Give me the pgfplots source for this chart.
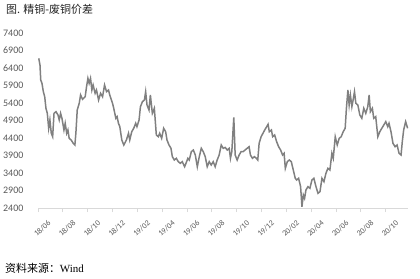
\documentclass[border=0pt]{standalone}
\usepackage{fontspec}
\usepackage{pgfplots}
\pgfplotsset{compat=1.18}
\setmainfont{Liberation Serif}
\newfontfamily\cjk{Noto Sans CJK SC}
\newfontfamily\calib{Carlito}
\definecolor{linegray}{RGB}{128,128,128}
\definecolor{txtgray}{RGB}{89,89,89}
\definecolor{axgray}{RGB}{217,217,217}
\pgfplotstableread{
m v
0.06 6677
0.16 6486
0.22 6057
0.32 5963
0.43 5723
0.54 5580
0.64 5249
0.75 5105
0.86 4677
0.96 4914
1.07 4534
1.18 4437
1.29 5105
1.45 5152
1.61 5057
1.71 4914
1.82 5105
1.93 4963
2.09 4629
2.19 4820
2.31 4534
2.41 4629
2.51 4391
2.67 4343
2.84 4248
2.97 4200
3.05 4534
3.16 5200
3.32 5391
3.43 5629
3.59 5505
3.80 5580
3.91 5866
4.02 6105
4.12 5963
4.23 6105
4.34 5771
4.44 5914
4.60 5677
4.71 5771
4.88 5486
5.04 5677
5.20 5580
5.36 5914
5.52 5723
5.68 5771
5.78 5629
6.00 5391
6.10 5249
6.27 4963
6.37 5010
6.48 4820
6.59 4724
6.75 4343
6.91 4200
7.12 4343
7.29 4534
7.39 4343
7.55 4580
7.71 4677
7.87 4820
7.97 4724
8.14 4914
8.25 5294
8.41 5437
8.57 5486
8.67 5723
8.78 5343
8.94 5200
9.05 5629
9.21 5105
9.37 5249
9.53 4486
9.69 4437
9.80 4534
9.96 4391
10.12 4677
10.28 4580
10.39 4343
10.55 4200
10.71 4105
10.82 3866
10.98 3771
11.14 3820
11.30 3724
11.46 3677
11.62 3724
11.81 3580
11.97 3724
12.07 3820
12.18 3771
12.35 4010
12.51 4057
12.67 3914
12.83 3580
12.99 3866
13.15 4105
13.31 4010
13.47 3866
13.63 3580
13.79 3724
13.95 3629
14.11 3724
14.27 3580
14.43 3771
14.59 3914
14.76 4200
14.92 4105
15.08 4130
15.24 4057
15.40 4105
15.50 3820
15.61 4010
15.77 4990
15.88 3914
16.04 3771
16.20 3914
16.36 4010
16.52 4010
16.68 4057
16.84 4105
17.00 4152
17.11 3914
17.27 3820
17.43 3866
17.59 3820
17.70 3771
17.81 4248
17.97 4437
18.26 4629
18.42 4724
18.53 4791
18.63 4580
18.80 4629
18.90 4437
19.06 4486
19.22 4294
19.38 4152
19.54 4057
19.70 3914
19.82 3963
19.92 3534
20.08 3724
20.24 3771
20.40 3724
20.56 3486
20.72 3248
20.83 3200
20.99 3248
21.15 3010
21.26 2437
21.37 2771
21.47 2677
21.58 2914
21.74 3010
21.90 2963
22.06 3200
22.22 3248
22.39 3010
22.55 2820
22.71 2866
22.87 3248
23.03 3152
23.19 3391
23.35 3534
23.51 3486
23.67 3963
23.78 3820
23.94 4437
24.10 4200
24.26 4391
24.42 4437
24.58 4580
24.74 4677
24.84 5249
24.96 5771
25.06 5343
25.16 5629
25.28 5294
25.38 5486
25.49 5723
25.60 5391
25.76 5343
25.92 5057
26.08 4963
26.24 5249
26.40 5105
26.56 5294
26.67 5629
26.77 5152
26.93 5249
27.04 4963
27.20 5010
27.37 4437
27.53 4580
27.69 4677
27.85 4771
28.01 4867
28.17 4724
28.27 4820
28.43 4580
28.59 4248
28.76 4152
28.92 4200
29.08 3963
29.24 3914
29.34 4294
29.45 4629
29.61 4867
29.77 4677
}\spread
\begin{document}
\begin{tikzpicture}
\path[use as bounding box] (-38bp,-71bp) rectangle (382bp,208bp);
\begin{axis}[
  at={(0,0)}, anchor=south west,
  scale only axis, width=370bp, height=175bp,
  xmin=0, xmax=29.8, ymin=2400, ymax=7400,
  axis x line*=bottom, axis y line*=left,
  y axis line style={draw=none},
  x axis line style={axgray, line width=0.75bp, -},
  xtick={0,2,...,28},
  xticklabels={18/06,18/08,18/10,18/12,19/02,19/04,19/06,19/08,19/10,19/12,20/02,20/04,20/06,20/08,20/10},
  x tick style={axgray, line width=0.75bp},
  tick align=outside,
  major tick length=4bp,
  ytick={2400,2900,...,7400},
  y tick style={draw=none},
  /pgf/number format/assume math mode=true,
  /pgf/number format/1000 sep={},
  yticklabel style={font=\calib\fontsize{10}{12}\selectfont, text=txtgray, anchor=west, inner sep=0pt, xshift=-31bp},
  xticklabel style={font=\calib\fontsize{8}{10}\selectfont, text=txtgray, rotate=42, anchor=north east, inner sep=0pt, yshift=-12bp, xshift=2bp},
  clip=false,
]
\addplot[linegray, line width=1.5bp, mark=none] table[x=m, y=v] {\spread};
\end{axis}
\node[anchor=west, inner sep=0pt, text={rgb,255:red,38;green,38;blue,38}] at (-32bp,199bp) {\cjk\fontsize{11}{12}\selectfont 图. 精铜-废铜价差};
\node[anchor=west, inner sep=0pt] at (-33bp,-60bp) {\fontsize{11}{12}\selectfont{\cjk 资料来源：}Wind};
\end{tikzpicture}
\end{document}
